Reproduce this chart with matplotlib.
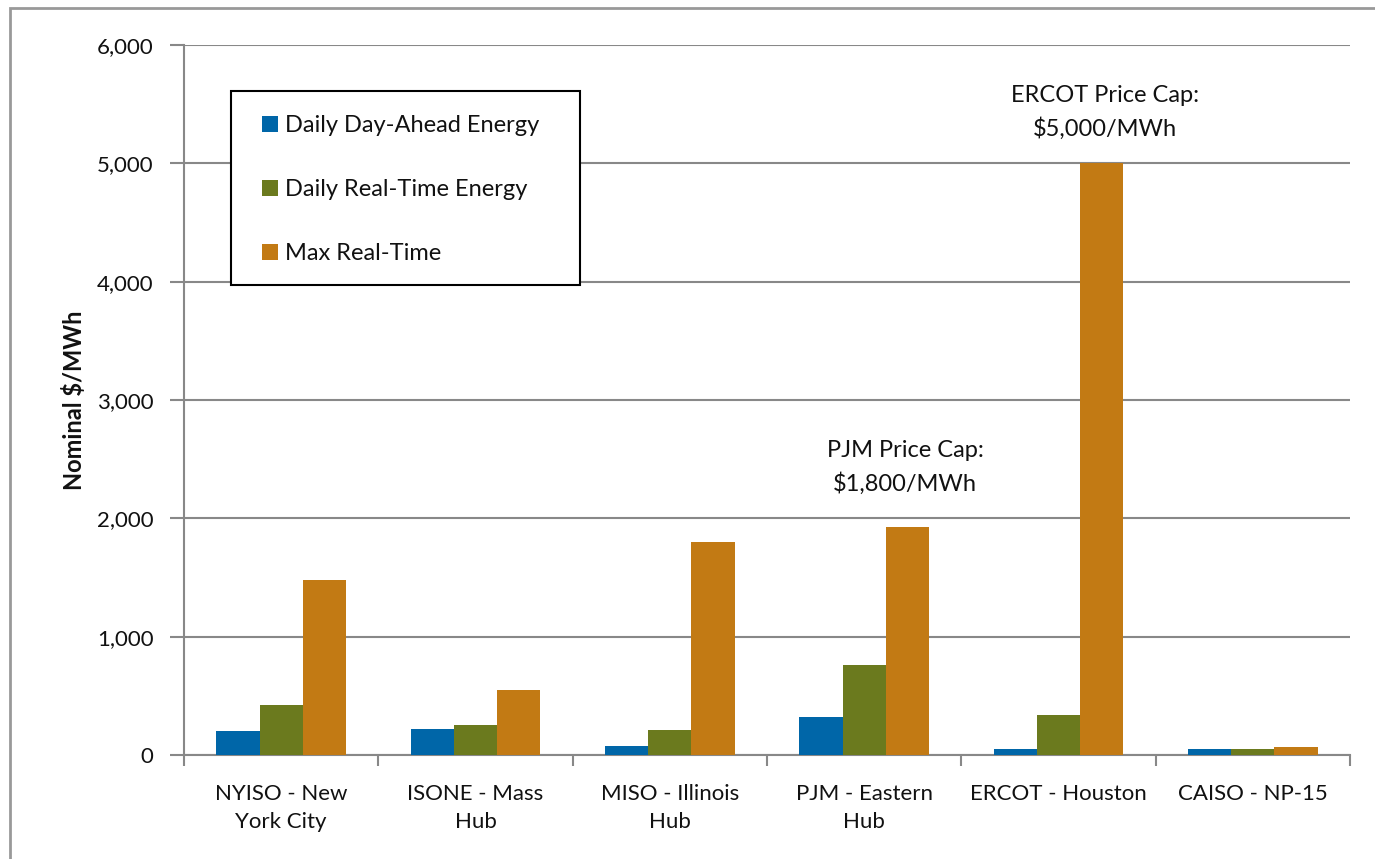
import matplotlib.pyplot as plt
import matplotlib.patches as mpatches
import numpy as np

categories = ["NYISO - New\nYork City", "ISONE - Mass\nHub", "MISO - Illinois\nHub",
              "PJM - Eastern\nHub", "ERCOT - Houston", "CAISO - NP-15"]
day_ahead = [205, 220, 75, 320, 50, 50]
real_time = [420, 250, 215, 760, 340, 48]
max_real_time = [1480, 550, 1800, 1925, 5000, 65]
series_names = ["Daily Day-Ahead Energy", "Daily Real-Time Energy", "Max Real-Time"]
colors = ["#0066A8", "#6B7A1E", "#C27A14"]
y_ticks = [0, 1000, 2000, 3000, 4000, 5000, 6000]

plt.rcParams['font.family'] = ['Lato', 'DejaVu Sans']
txt_color = "#111111"

fig = plt.figure(figsize=(13.75, 8.59), dpi=100)
ax = fig.add_axes([184/1375, 1-755/859, 1166/1375, 710/859])

# outer chart frame (only left and top edges visible)
fig.patches.append(mpatches.Rectangle((10/1375, -0.2), 1.2, 1.2 - 8/859,
                                      transform=fig.transFigure, fill=False,
                                      edgecolor="#999999", linewidth=2))

x = np.arange(len(categories))
w = 0.222
for i, (vals, name) in enumerate(zip([day_ahead, real_time, max_real_time], series_names)):
    ax.bar(x + (i - 1) * w, vals, w, color=colors[i], label=name, zorder=3)

ax.set_xlim(-0.5, len(categories) - 0.5)
ax.set_ylim(0, 6000)
ax.set_yticks(y_ticks)
ax.set_yticklabels([f"{v:,}" for v in y_ticks], fontsize=16, color=txt_color)
ax.set_xticks(x)
ax.set_xticklabels(categories, fontsize=16, color=txt_color, linespacing=1.5)
ax.tick_params(axis="x", length=0, pad=21)
ax.set_xticks(np.arange(len(categories) + 1) - 0.5, minor=True)
ax.tick_params(axis="x", which="minor", length=8, color="#888888", width=1.5)
ax.tick_params(axis="y", length=10, color="#888888", width=1.5, pad=12)

ax.grid(axis="y", color="#888888", linewidth=1.5, zorder=0)
for s in ["top", "right"]:
    ax.spines[s].set_visible(False)
for s in ["left", "bottom"]:
    ax.spines[s].set_color("#888888")
    ax.spines[s].set_linewidth(1.5)

ax.set_ylabel("Nominal $/MWh", fontsize=17, fontweight="bold", labelpad=8, color=txt_color)

ax.text(4.24, 5200, "ERCOT Price Cap:\n$5,000/MWh", ha="center", va="bottom",
        fontsize=17, color=txt_color, linespacing=1.6)
ax.text(3.21, 2200, "PJM Price Cap:\n$1,800/MWh", ha="center", va="bottom",
        fontsize=17, color=txt_color, linespacing=1.6)

# legend box drawn separately so its size matches the reference
fig.patches.append(mpatches.Rectangle((231/1375, 1-285/859), 349/1375, 194/859,
                                      transform=fig.transFigure, fill=True,
                                      facecolor="white", edgecolor="black",
                                      linewidth=1.5, zorder=4))
leg = fig.legend(loc="upper left", bbox_to_anchor=(262/1375, 1-115/859), fontsize=17,
                 frameon=False, handlelength=0.68, handleheight=0.68,
                 handletextpad=0.28, labelspacing=1.83, borderpad=0,
                 borderaxespad=0)
leg.set_zorder(5)
for t in leg.get_texts():
    t.set_color(txt_color)

fig.savefig("out.png", dpi=100)
